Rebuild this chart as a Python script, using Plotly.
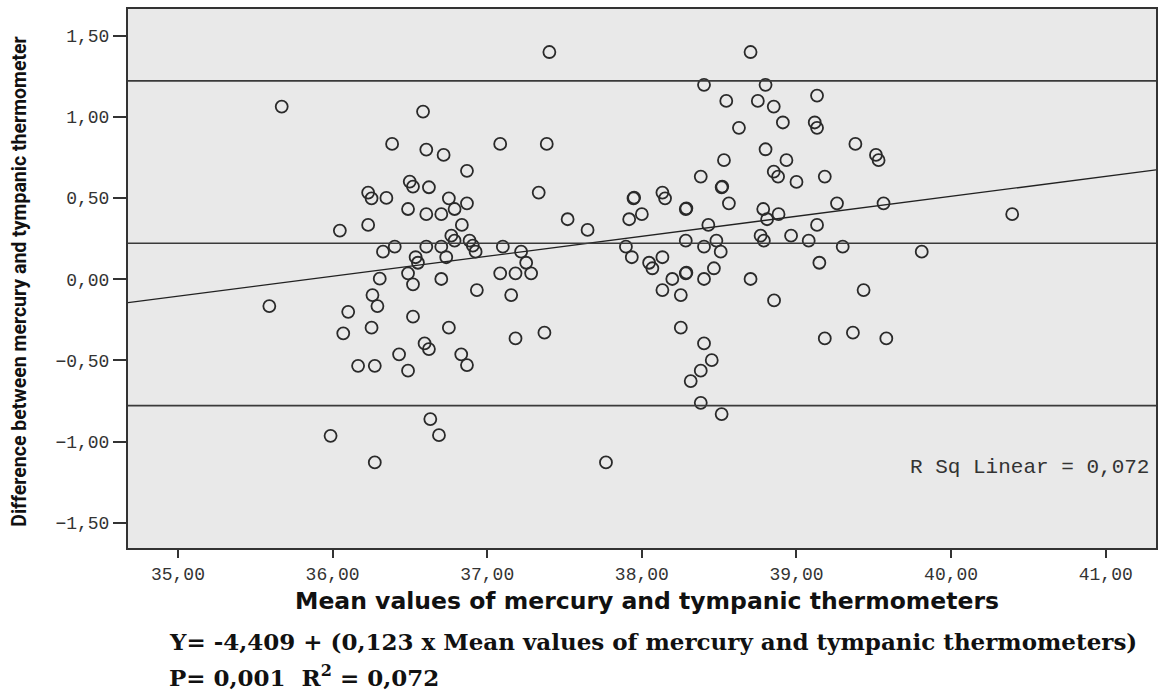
import plotly.graph_objects as go

# ---- data ----
x_mean = [
    35.671, 35.591, 35.987, 36.047, 36.069, 36.101, 36.165, 36.230, 36.252, 36.230,
    36.348, 36.326, 36.402, 36.305, 36.258, 36.290, 36.252, 36.273, 36.273, 36.430,
    36.385, 36.585, 36.606, 36.718, 36.869, 36.499, 36.520, 36.623, 36.488, 36.606,
    36.703, 36.752, 36.789, 36.869, 36.836, 36.768, 36.789, 36.886, 36.907, 36.925,
    36.606, 36.703, 36.537, 36.552, 36.735, 36.488, 36.520, 36.703, 36.933, 37.155,
    37.101, 37.219, 37.252, 37.084, 37.183, 37.284, 37.084, 37.385, 37.402, 37.333,
    37.520, 37.649, 36.520, 36.752, 37.183, 37.370, 36.595, 36.623, 36.488, 36.832,
    36.869, 36.632, 36.688, 37.768, 37.897, 37.935, 37.918, 38.000, 37.946, 37.950,
    38.133, 38.150, 38.284, 38.288, 38.381, 38.531, 38.516, 38.520, 38.563, 38.430,
    38.284, 38.402, 38.482, 38.510, 38.047, 38.068, 38.133, 38.197, 38.284, 38.288,
    38.402, 38.466, 38.133, 38.252, 38.703, 38.703, 38.402, 38.800, 38.546, 38.750,
    38.853, 38.628, 38.800, 38.785, 38.810, 38.768, 38.789, 38.853, 38.881, 39.133,
    38.912, 39.118, 39.133, 38.935, 39.381, 39.514, 39.531, 39.000, 39.183, 39.262,
    39.563, 38.884, 39.133, 38.965, 39.079, 39.299, 39.810, 40.395, 39.148, 39.434,
    38.855, 39.183, 39.365, 39.581, 38.252, 38.402, 38.452, 38.381, 38.316, 38.381,
    38.516,
]
y_diff = [
    1.064, -0.165, -0.964, 0.300, -0.333, -0.200, -0.533, 0.534, 0.499, 0.335,
    0.501, 0.170, 0.201, 0.004, -0.097, -0.165, -0.298, -0.533, -1.128, -0.462,
    0.834, 1.033, 0.799, 0.766, 0.668, 0.602, 0.571, 0.567, 0.433, 0.401,
    0.401, 0.499, 0.433, 0.468, 0.335, 0.269, 0.238, 0.238, 0.207, 0.170,
    0.201, 0.201, 0.136, 0.102, 0.136, 0.037, -0.031, 0.002, -0.066, -0.097,
    0.201, 0.170, 0.102, 0.037, 0.037, 0.037, 0.834, 0.834, 1.400, 0.534,
    0.370, 0.304, -0.230, -0.298, -0.364, -0.329, -0.395, -0.430, -0.563, -0.462,
    -0.528, -0.861, -0.960, -1.128, 0.201, 0.136, 0.370, 0.401, 0.499, 0.503,
    0.534, 0.499, 0.433, 0.437, 0.633, 0.734, 0.567, 0.571, 0.468, 0.335,
    0.238, 0.201, 0.238, 0.170, 0.102, 0.068, 0.136, 0.002, 0.037, 0.041,
    0.002, 0.068, -0.066, -0.097, 0.002, 1.400, 1.198, 1.198, 1.099, 1.099,
    1.064, 0.933, 0.801, 0.433, 0.370, 0.269, 0.238, 0.663, 0.633, 1.132,
    0.966, 0.966, 0.933, 0.734, 0.834, 0.766, 0.734, 0.600, 0.633, 0.468,
    0.468, 0.401, 0.335, 0.269, 0.238, 0.201, 0.170, 0.401, 0.102, -0.066,
    -0.130, -0.364, -0.329, -0.364, -0.298, -0.395, -0.498, -0.563, -0.627, -0.761,
    -0.830,
]

mean_diff = 0.222
upper_loa = 1.222
lower_loa = -0.778
intercept = -4.409
slope = 0.123
r_sq = "0,072"

x_ticks = [35, 36, 37, 38, 39, 40, 41]
y_ticks = [-1.5, -1.0, -0.5, 0.0, 0.5, 1.0, 1.5]
x_range = [34.677, 41.325]
y_range = [-1.655, 1.665]

x_title = "Mean values of mercury and tympanic thermometers"
y_title = "Difference between mercury and tympanic thermometer"
eq_line1 = "Y= -4,409 + (0,123 x Mean values of mercury and tympanic thermometers)"
eq_line2 = "P= 0,001  R<sup>2</sup> = 0,072"

# ---- figure ----
fig = go.Figure()

# regression line over the whole axis range
reg_x = list(x_range)
reg_y = [intercept + slope * v for v in reg_x]
fig.add_trace(go.Scatter(x=reg_x, y=reg_y, mode="lines",
                         line=dict(color="#222222", width=1.3),
                         hoverinfo="skip", showlegend=False))

fig.add_trace(go.Scatter(x=x_mean, y=y_diff, mode="markers",
                         marker=dict(symbol="circle-open", size=12,
                                     color="#2a2a2a", line=dict(width=1.8, color="#2a2a2a")),
                         showlegend=False))

for yv in [upper_loa, mean_diff, lower_loa]:
    fig.add_hline(y=yv, line=dict(color="#3a3a3a", width=1.6))

tick_font = dict(family="Liberation Mono, Courier New, monospace", size=18, color="#333333")

fig.update_xaxes(range=x_range, tickvals=x_ticks, tickformat=".2f",
                 ticks="outside", ticklen=8, tickwidth=2, tickcolor="#333333",
                 showgrid=False, zeroline=False,
                 showline=True, linecolor="#333333", linewidth=2, mirror=True,
                 tickfont=tick_font)
fig.update_yaxes(range=y_range, tickvals=y_ticks, tickformat=".2f",
                 ticks="outside", ticklen=13, tickwidth=2, tickcolor="#333333",
                 showgrid=False, zeroline=False,
                 showline=True, linecolor="#333333", linewidth=2, mirror=True,
                 tickfont=tick_font)

annotations = [
    dict(text=x_title, xref="paper", yref="paper", x=0.505, y=-0.098,
         xanchor="center", yanchor="middle", showarrow=False,
         font=dict(family="DejaVu Sans", size=23.5, color="#111111", weight="bold")),
    dict(text=y_title, xref="paper", yref="paper", x=-0.105, y=0.494,
         xanchor="center", yanchor="middle", showarrow=False, textangle=-90,
         font=dict(family="Roboto", size=19.5, color="#111111", weight="bold")),
    dict(text=eq_line1, xref="paper", yref="paper", x=0.038, y=-0.174,
         xanchor="left", yanchor="middle", showarrow=False,
         font=dict(family="DejaVu Serif", size=23, color="#111111", weight="bold")),
    dict(text=eq_line2, xref="paper", yref="paper", x=0.038, y=-0.238,
         xanchor="left", yanchor="middle", showarrow=False,
         font=dict(family="DejaVu Serif", size=23, color="#111111", weight="bold")),
    dict(text="R Sq Linear = " + r_sq, xref="paper", yref="paper", x=0.995, y=0.150,
         xanchor="right", yanchor="middle", showarrow=False,
         font=dict(family="Liberation Mono, Courier New, monospace", size=21, color="#333333")),
]

fig.update_layout(
    width=1161, height=692,
    margin=dict(l=128, r=3, t=9, b=144),
    paper_bgcolor="white", plot_bgcolor="#e9e9e9",
    separators=",.",
    annotations=annotations,
    showlegend=False,
)

fig.write_html("out.html",
               config={"displayModeBar": False},
               post_script="document.body.style.margin='0';document.body.style.overflow='hidden';")
